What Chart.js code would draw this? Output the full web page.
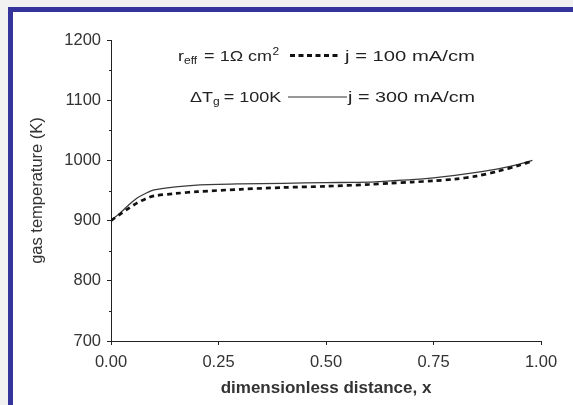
<!DOCTYPE html>
<html><head><meta charset="utf-8">
<script src="https://cdn.jsdelivr.net/npm/chart.js@4.4.1/dist/chart.umd.min.js"></script>
<style>
html,body{margin:0;padding:0;background:#f1f1f1;}
#wrap{position:absolute;left:0;top:0;width:573px;height:405px;}
</style></head>
<body><div id="wrap"><canvas id="c" width="573" height="405"></canvas></div>
<script>
// Data
const xValues = [0, 0.02, 0.04, 0.06, 0.08, 0.10, 0.15, 0.20, 0.30, 0.40, 0.50, 0.60, 0.65, 0.70, 0.75, 0.80, 0.85, 0.90, 0.95, 0.98];
const temp300 = [900, 912, 925, 937, 945, 951, 956, 959, 961, 962, 963, 964, 966, 968, 971, 975, 980, 986, 994, 1000];
const temp100 = [900, 910, 920, 929, 936, 941, 945, 948, 952, 955, 957, 960, 962, 964, 966, 969, 974, 982, 992, 999];
const xTicks = [0, 0.25, 0.5, 0.75, 1.0];
const yTicks = [700, 800, 900, 1000, 1100, 1200];
const yMinorTicks = [750, 850, 950, 1050, 1150];

const FONT = "'Liberation Sans', Arial, sans-serif";

const framePlugin = {
  id: 'frame',
  beforeDraw(chart) {
    const ctx = chart.ctx;
    ctx.save();
    ctx.fillStyle = '#f1f1f1';
    ctx.fillRect(0, 0, chart.width, chart.height);
    ctx.fillStyle = '#ffffff';
    ctx.fillRect(8, 8, chart.width - 8, chart.height - 8);
    ctx.fillStyle = '#34349c';
    ctx.fillRect(8, 7, chart.width - 8, 5);
    ctx.fillRect(8, 7, 5, chart.height - 7);
    ctx.restore();
  }
};

function seg(ctx, text, x, y, size, sx) {
  ctx.font = size + 'px ' + FONT;
  ctx.save();
  ctx.translate(x, y);
  ctx.scale(sx, 1);
  ctx.fillText(text, 0, 0);
  ctx.restore();
  return x + ctx.measureText(text).width * sx;
}

const annotPlugin = {
  id: 'annot',
  afterDraw(chart) {
    const ctx = chart.ctx;
    const ys = chart.scales.y;
    ctx.save();
    ctx.fillStyle = '#222';
    ctx.textBaseline = 'alphabetic';
    // line 1
    const y1 = 60.5;
    let x = 178;
    x = seg(ctx, 'r', x, y1, 15, 1.2);
    x = seg(ctx, 'eff', x, y1 + 3, 10, 1.2) + 7;
    x = seg(ctx, '= 1\u03A9 cm', x, y1, 15, 1.2);
    seg(ctx, '2', x + 0.5, y1 - 6, 10, 1.2);
    ctx.strokeStyle = '#111';
    ctx.lineWidth = 3;
    ctx.setLineDash([5, 3.5]);
    ctx.beginPath(); ctx.moveTo(290, y1 - 5); ctx.lineTo(339, y1 - 5); ctx.stroke();
    ctx.setLineDash([]);
    seg(ctx, 'j = 100 mA/cm', 345, y1, 15, 1.35);
    // line 2
    const y2 = 102;
    x = 190;
    x = seg(ctx, '\u0394T', x, y2, 15, 1.2);
    x = seg(ctx, 'g', x, y2 + 3, 10, 1.2) + 4;
    seg(ctx, '= 100K', x, y2, 15, 1.2);
    ctx.strokeStyle = '#333';
    ctx.lineWidth = 1.2;
    ctx.beginPath(); ctx.moveTo(288, y2 - 5); ctx.lineTo(347, y2 - 5); ctx.stroke();
    seg(ctx, 'j = 300 mA/cm', 348, y2, 15, 1.32);
    // minor y ticks
    const xa = chart.chartArea.left;
    ctx.strokeStyle = '#222';
    ctx.lineWidth = 1;
    yMinorTicks.forEach(v => {
      const py = Math.round(ys.getPixelForValue(v)) + 0.5;
      ctx.beginPath(); ctx.moveTo(xa - 2, py); ctx.lineTo(xa, py); ctx.stroke();
    });
    ctx.restore();
  }
};

const data = {
  datasets: [
    {
      label: 'j = 100 mA/cm',
      data: xValues.map((v, i) => ({x: v, y: temp100[i]})),
      borderColor: '#111',
      borderWidth: 2.7,
      borderDash: [5, 4],
      pointRadius: 0,
      tension: 0.3,
      fill: false
    },
    {
      label: 'j = 300 mA/cm',
      data: xValues.map((v, i) => ({x: v, y: temp300[i]})),
      borderColor: '#3a3a3a',
      borderWidth: 1.3,
      pointRadius: 0,
      tension: 0.3,
      fill: false
    }
  ]
};

new Chart(document.getElementById('c'), {
  type: 'line',
  data,
  plugins: [framePlugin, annotPlugin],
  options: {
    responsive: false,
    animation: false,
    devicePixelRatio: 1,
    layout: { padding: { left: 0, right: 32, top: 40, bottom: 0 } },
    plugins: { legend: { display: false }, tooltip: { enabled: false } },
    scales: {
      x: {
        type: 'linear',
        min: 0, max: 1,
        afterBuildTicks: s => { s.ticks = xTicks.map(v => ({value: v})); },
        afterFit: s => { s.height = 64; },
        border: { color: '#222', width: 1 },
        grid: { drawOnChartArea: false, tickLength: 4, color: '#222' },
        ticks: {
          padding: 8,
          color: '#333',
          font: { family: FONT, size: 16.5 },
          maxRotation: 0,
          callback: v => Number(v).toFixed(2)
        },
        title: {
          display: true,
          text: 'dimensionless distance, x',
          color: '#333',
          font: { family: FONT, size: 17, weight: 'bold' },
          padding: { top: 0, bottom: 6 }
        }
      },
      y: {
        type: 'linear',
        min: 700, max: 1200,
        afterBuildTicks: s => { s.ticks = yTicks.map(v => ({value: v})); },
        afterFit: s => { s.width = 111; },
        border: { color: '#222', width: 1 },
        grid: { drawOnChartArea: false, tickLength: 4, color: '#222' },
        ticks: {
          padding: 6,
          color: '#333',
          font: { family: FONT, size: 16.5 },
          callback: v => String(v)
        },
        title: {
          display: true,
          text: 'gas temperature (K)',
          color: '#333',
          font: { family: FONT, size: 16.5 },
          padding: { top: 28, bottom: 0 }
        }
      }
    }
  }
});
</script></body></html>
